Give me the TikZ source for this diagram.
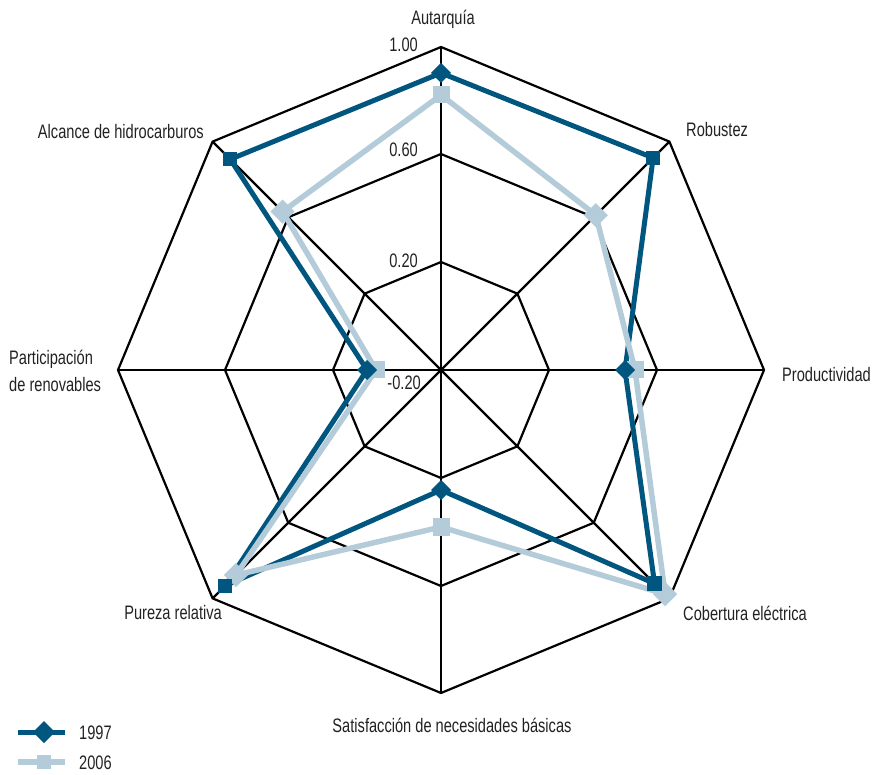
\documentclass[tikz,border=0pt]{standalone}
\usepackage{fontspec}
\setmainfont{Liberation Sans}[FakeStretch=0.75]
\usetikzlibrary{calc}
\definecolor{darkser}{HTML}{00567E}
\definecolor{lightser}{HTML}{B4CCD9}
\definecolor{txt}{HTML}{222222}
\tikzset{
  gridline/.style={black, line width=2.2pt, line join=miter},
  ser97/.style={darkser, line width=5pt, line join=round},
  ser06/.style={lightser, line width=5.5pt, line join=round},
  lbl/.style={text=txt, inner sep=0pt, font=\fontsize{19.5}{27}\selectfont},
  ticklbl/.style={lbl, anchor=east},
}
\begin{document}
\begin{tikzpicture}[x=1pt,y=1pt]
\useasboundingbox (0,0) rectangle (880,774);
\coordinate (c) at (441,404);
\begin{scope}[shift={(c)}]
  % grid
  \foreach \r in {108,216,323}
    \draw[gridline] (90:\r) -- (45:\r) -- (0:\r) -- (-45:\r) -- (-90:\r) -- (-135:\r) -- (180:\r) -- (135:\r) -- cycle;
  \foreach \a in {90,45,0,-45,-90,-135,180,135}
    \draw[gridline] (0,0) -- (\a:323);
  % 1997
  \draw[ser97] (90:297) -- (45:300) -- (0:184) -- (-45:302) -- (-90:120) -- (-135:305) -- (180:74) -- (135:298) -- cycle;
  % 2006
  \draw[ser06] (90:275) -- (45:219) -- (0:194) -- (-45:317) -- (-90:157) -- (-135:290) -- (180:65) -- (135:224) -- cycle;
  \foreach \a/\r in {90/275,45/219,0/194,-45/317,-90/157,-135/290,180/65,135/224}
    \fill[lightser, shift={(\a:\r)}, rotate=\a] (-8.5,-8.5) rectangle (8.5,8.5);
  \foreach \a/\r in {90/297,45/300,0/184,-45/302,-90/120,-135/305,180/74,135/298}
    \fill[darkser, shift={(\a:\r)}, rotate=\a] (10,0) -- (0,10) -- (-10,0) -- (0,-10) -- cycle;
\end{scope}
% tick labels
\node[ticklbl] (t100) at (418,729) {1.00};
\node[ticklbl] (t060) at (418,624) {0.60};
\node[ticklbl] (t020) at (418,513) {0.20};
\node[ticklbl] (tm020) at (421,391) {-0.20};
% axis labels
\node[lbl] (autar) at (443,755) {Autarquía};
\node[lbl, anchor=west] (robus) at (686,644) {Robustez};
\node[lbl, anchor=west] (produ) at (782,399) {Productividad};
\node[lbl, anchor=west] (cober) at (683,161) {Cobertura eléctrica};
\node[lbl] (satis) at (452,49) {Satisfacción de necesidades básicas};
\node[lbl, anchor=east] (purez) at (222,161) {Pureza relativa};
\node[lbl, anchor=west, align=left] (parti) at (9,403) {Participación\\de renovables};
\node[lbl, anchor=east] (alcan) at (204,642) {Alcance de hidrocarburos};
% legend
\coordinate (l1a) at (18,42);
\coordinate (l1b) at (65,42);
\coordinate (l2a) at (18,12);
\coordinate (l2b) at (65,12);
\draw[ser97, line cap=butt] (l1a) -- (l1b);
\fill[darkser] (44,42) +(11,0) -- +(0,11) -- +(-11,0) -- +(0,-11) -- cycle;
\draw[ser06, line cap=butt] (l2a) -- (l2b);
\fill[lightser] (44,12) +(-7,-7) rectangle +(7,7);
\node[lbl, anchor=west] (y97) at (79,41) {1997};
\node[lbl, anchor=west] (y06) at (79,11) {2006};
\end{tikzpicture}
\end{document}
